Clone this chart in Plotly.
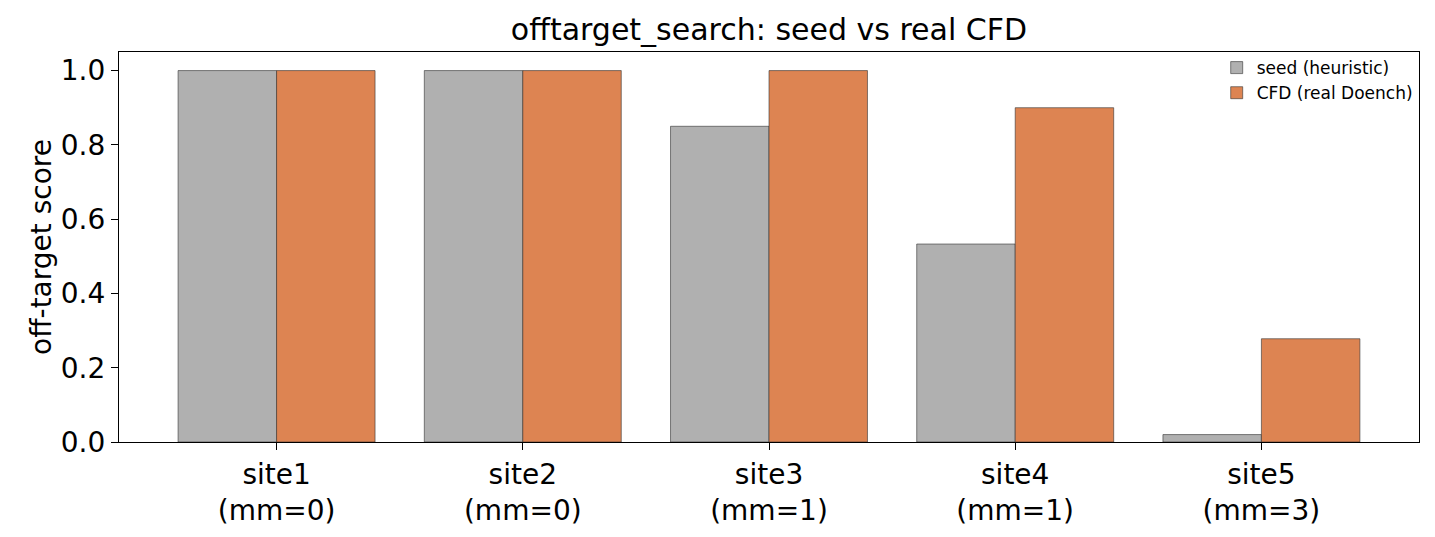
import plotly.graph_objects as go

# offtarget scores per site
sites = ['site1', 'site2', 'site3', 'site4', 'site5']
mismatches = [0, 0, 1, 1, 3]
seed_scores = [1.0, 1.0, 0.85, 0.533, 0.02]
cfd_scores = [1.0, 1.0, 1.0, 0.9, 0.278]

tick_labels = [f"{s}<br>(mm={m})" for s, m in zip(sites, mismatches)]
xpos = list(range(len(sites)))

fig = go.Figure()
fig.add_trace(go.Bar(
    x=xpos, y=seed_scores, width=0.4, offset=-0.4,
    name='seed (heuristic)',
    marker=dict(color='#b0b0b0', line=dict(color='#333333', width=0.6)),
))
fig.add_trace(go.Bar(
    x=xpos, y=cfd_scores, width=0.4, offset=0,
    name='CFD (real Doench)',
    marker=dict(color='#dd8452', line=dict(color='#333333', width=0.6)),
))

# page body adds an 8px margin, so shift the plot box up/left
fig.update_layout(
    barmode='overlay',
    width=1435, height=537,
    paper_bgcolor='white', plot_bgcolor='white',
    font=dict(family='DejaVu Sans', color='black'),
    title=dict(text='offtarget_search: seed vs real CFD', x=0.5, xanchor='center',
               xref='paper', y=0.96, yanchor='middle', yref='container',
               font=dict(size=30)),
    margin=dict(l=111, r=24, t=44, b=103),
    showlegend=True,
    legend=dict(x=0.999, y=1.005, xanchor='right', yanchor='top',
                bgcolor='rgba(0,0,0,0)', font=dict(size=17),
                tracegroupgap=0),
)
fig.update_xaxes(
    range=[-0.64, 4.64], tickvals=xpos, ticktext=tick_labels,
    tickfont=dict(size=28), ticks='outside', ticklen=7, tickcolor='black',
    showline=True, linecolor='black', linewidth=1.3, mirror=True,
    showgrid=False, zeroline=False,
)
fig.update_yaxes(
    range=[0, 1.05], tickvals=[0, 0.2, 0.4, 0.6, 0.8, 1.0],
    ticktext=['0.0', '0.2', '0.4', '0.6', '0.8', '1.0'],
    tickfont=dict(size=28), ticks='outside', ticklen=7, tickcolor='black',
    title=dict(text='off-target score', font=dict(size=28), standoff=0),
    showline=True, linecolor='black', linewidth=1.3, mirror=True,
    showgrid=False, zeroline=False,
)

fig.write_html("out.html")
